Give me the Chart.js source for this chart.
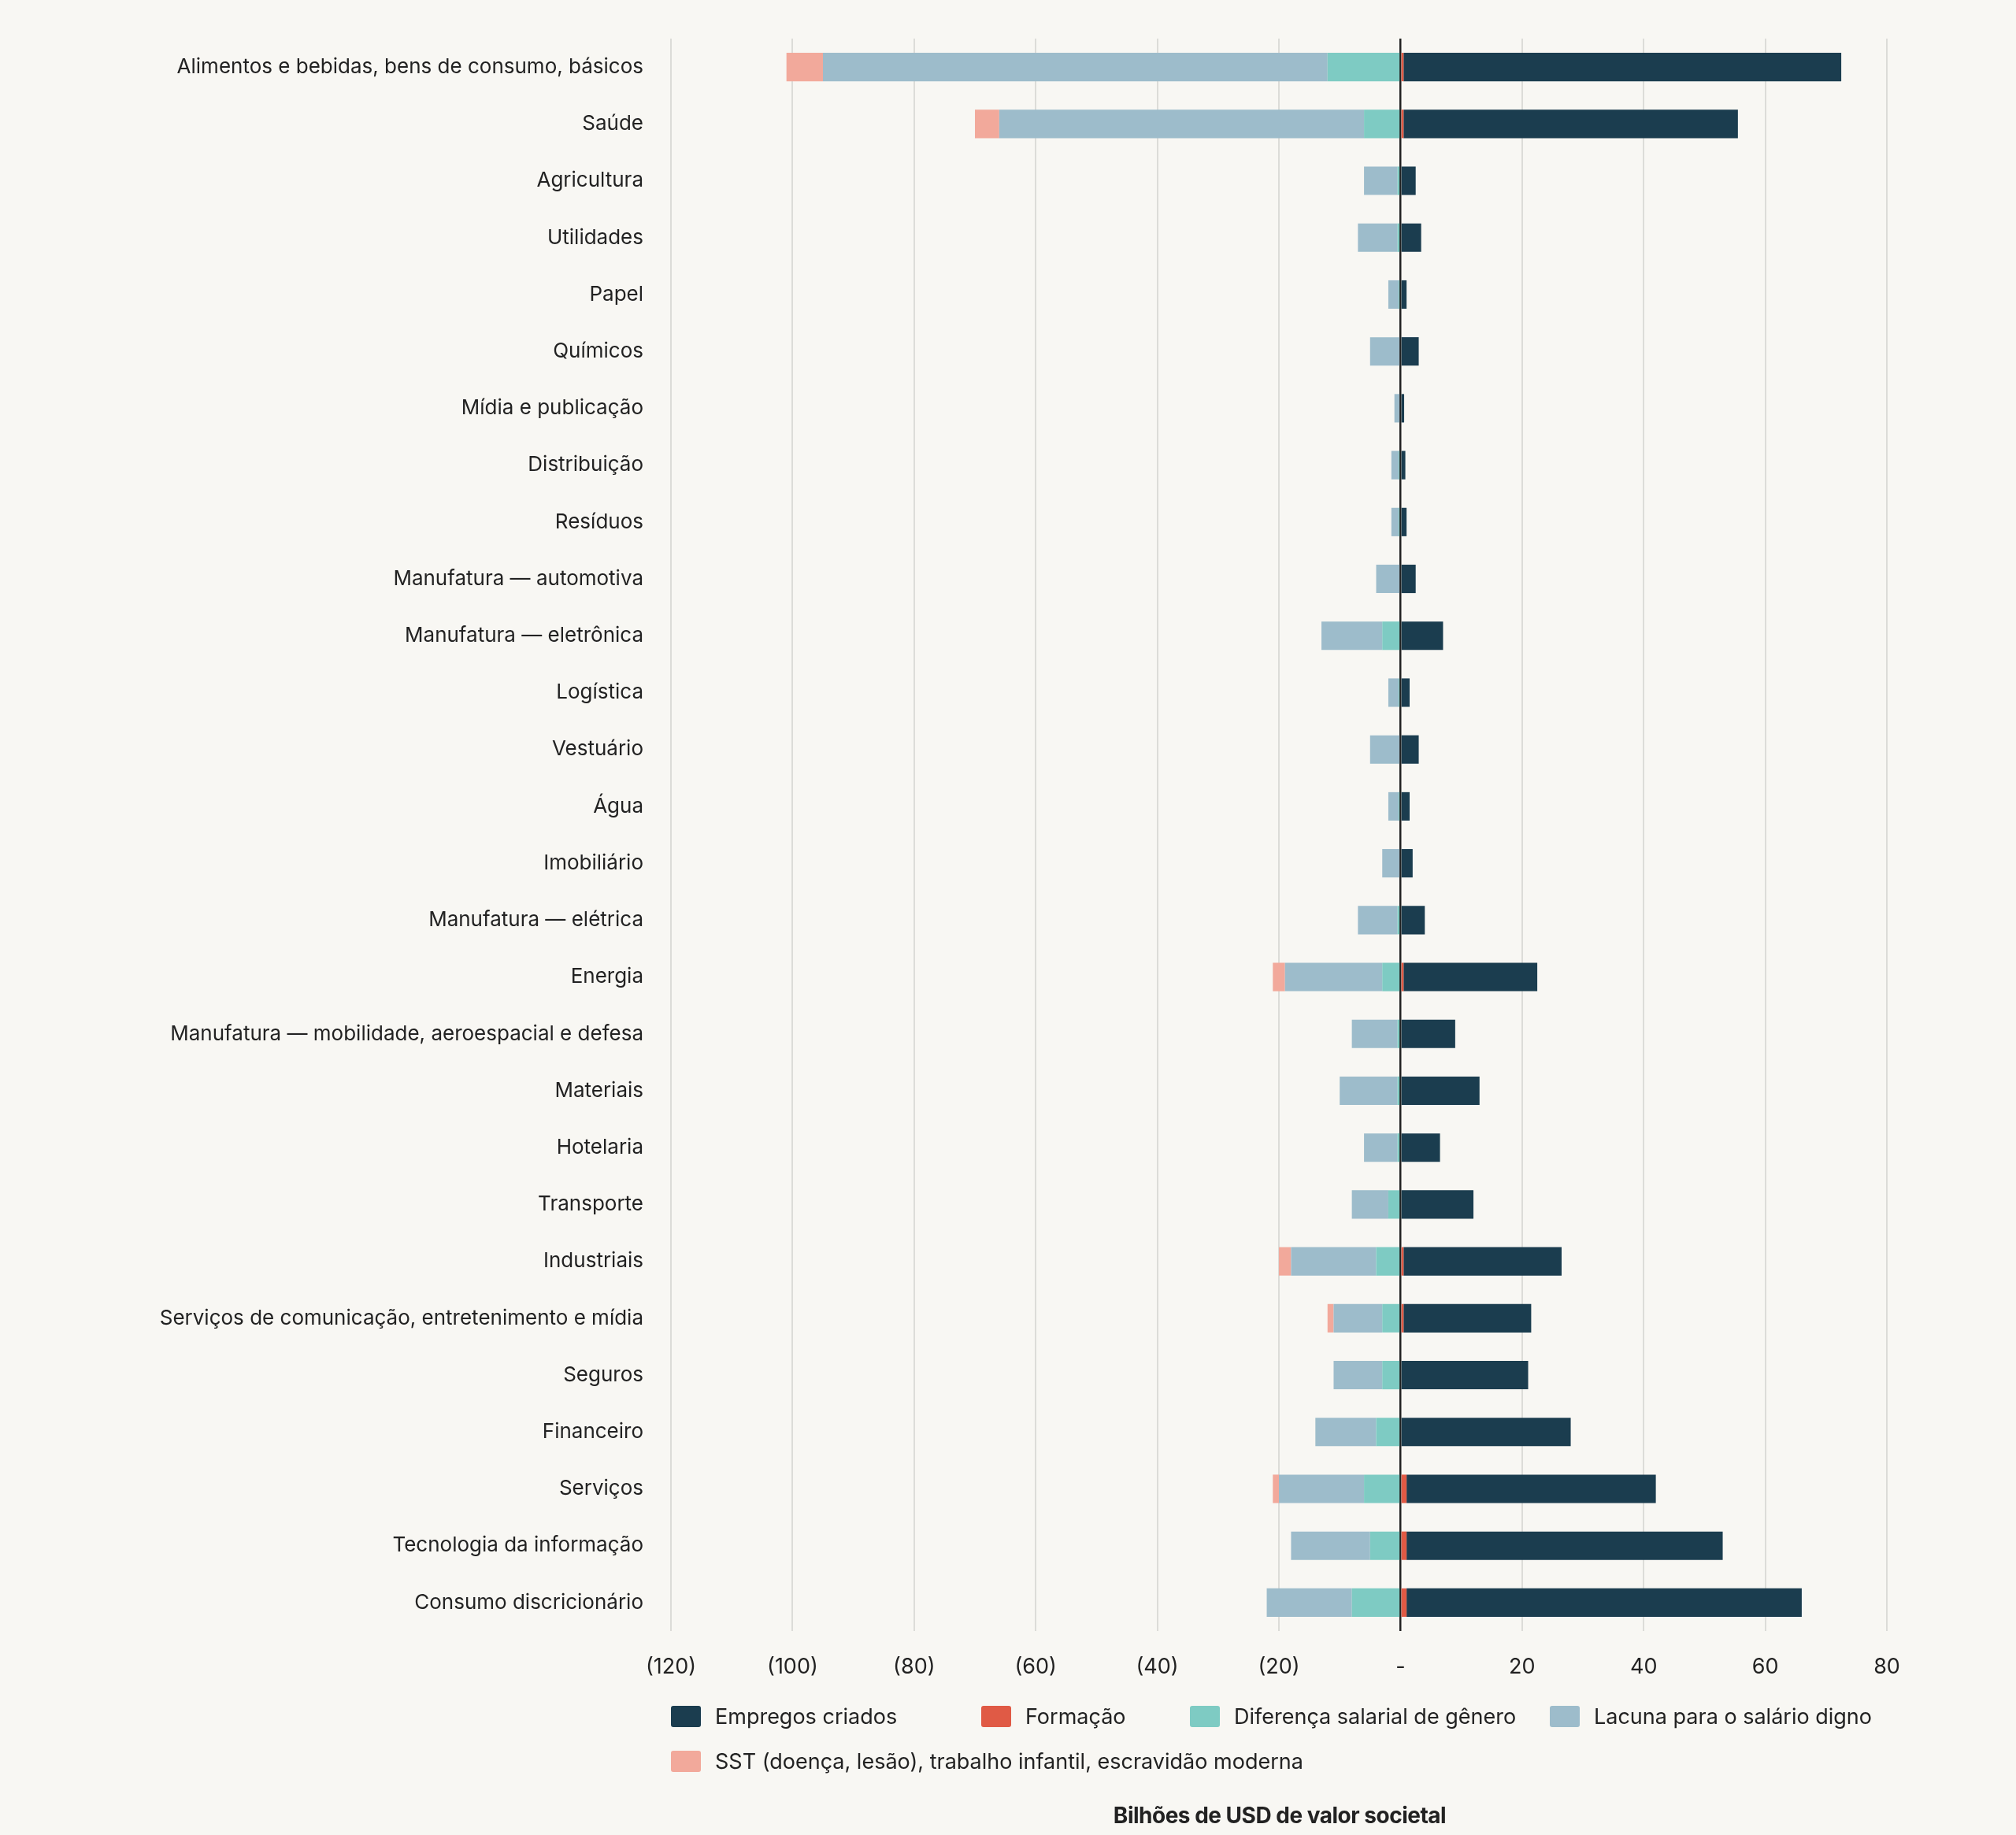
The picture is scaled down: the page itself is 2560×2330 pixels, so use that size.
<!DOCTYPE html>
<html>
<head>
<meta charset="utf-8">
<script src="https://cdn.jsdelivr.net/npm/chart.js@4"></script>
<style>
  body { margin: 0; background: #f8f7f3; font-family: Inter, sans-serif; }
  #wrap { position: relative; width: 2560px; height: 2330px; }
  #legend { position: absolute; left: 852px; top: 2163px; width: 1600px; font-size: 27px; color: #222; }
  .item { position: absolute; display: flex; align-items: center; white-space: nowrap; }
  .box { width: 38px; height: 27px; border-radius: 3px; margin-right: 18px; }
  #title { position: absolute; left: 1625px; top: 2288px; transform: translateX(-50%); font-size: 28px; font-weight: 700; color: #222; letter-spacing: -0.5px; }
</style>
</head>
<body>
<div id="wrap">
  <canvas id="chart" width="2560" height="2330"></canvas>
  <div id="legend"></div>
  <div id="title">Bilhões de USD de valor societal</div>
</div>
<script>
// sectors, top to bottom
const categories = [
  'Alimentos e bebidas, bens de consumo, básicos', 'Saúde', 'Agricultura', 'Utilidades', 'Papel',
  'Químicos', 'Mídia e publicação', 'Distribuição', 'Resíduos', 'Manufatura — automotiva',
  'Manufatura — eletrônica', 'Logística', 'Vestuário', 'Água', 'Imobiliário',
  'Manufatura — elétrica', 'Energia', 'Manufatura — mobilidade, aeroespacial e defesa', 'Materiais', 'Hotelaria',
  'Transporte', 'Industriais', 'Serviços de comunicação, entretenimento e mídia', 'Seguros', 'Financeiro',
  'Serviços', 'Tecnologia da informação', 'Consumo discricionário'
];

const empregos  = [72, 55, 2.5, 3.4, 1, 3, 0.6, 0.8, 1, 2.5, 7, 1.5, 3, 1.5, 2, 4, 22, 9, 13, 6.5, 12, 26, 21, 21, 28, 41, 52, 65];
const formacao  = [0.5, 0.5, 0, 0, 0, 0, 0, 0, 0, 0, 0, 0, 0, 0, 0, 0, 0.5, 0, 0, 0, 0, 0.5, 0.5, 0, 0, 1, 1, 1];
const diferenca = [-12, -6, -0.5, -0.5, -0.3, 0, 0, -0.3, -0.3, 0, -3, -0.3, 0, -0.3, 0, -0.5, -3, -0.5, -0.5, -0.5, -2, -4, -3, -3, -4, -6, -5, -8];
const lacuna    = [-83, -60, -5.5, -6.5, -1.7, -5, -1, -1.2, -1.2, -4, -10, -1.7, -5, -1.7, -3, -6.5, -16, -7.5, -9.5, -5.5, -6, -14, -8, -8, -10, -14, -13, -14];
const sst       = [-6, -4, 0, 0, 0, 0, 0, 0, 0, 0, 0, 0, 0, 0, 0, 0, -2, 0, 0, 0, 0, -2, -1, 0, 0, -1, 0, 0];

const xTicks = [-120, -100, -80, -60, -40, -20, 0, 20, 40, 60, 80];

const colors = {
  empregos: '#1b3d4f',
  formacao: '#e05a45',
  diferenca: '#7ecbc3',
  lacuna: '#9dbccb',
  sst: '#f2a99b'
};

// stack order: nearest to zero first
const datasets = [
  { label: 'Formação', data: formacao, backgroundColor: colors.formacao },
  { label: 'Diferença salarial de gênero', data: diferenca, backgroundColor: colors.diferenca },
  { label: 'Lacuna para o salário digno', data: lacuna, backgroundColor: colors.lacuna },
  { label: 'SST (doença, lesão), trabalho infantil, escravidão moderna', data: sst, backgroundColor: colors.sst },
  { label: 'Empregos criados', data: empregos, backgroundColor: colors.empregos }
];

const ctx = document.getElementById('chart').getContext('2d');
new Chart(ctx, {
  type: 'bar',
  data: { labels: categories, datasets: datasets },
  options: {
    indexAxis: 'y',
    responsive: false,
    animation: false,
    layout: { padding: { top: 49, right: 164, bottom: 0, left: 0 } },
    datasets: { bar: { categoryPercentage: 0.5, barPercentage: 1 } },
    plugins: { legend: { display: false }, tooltip: { enabled: false } },
    scales: {
      x: {
        stacked: true,
        min: -120, max: 80,
        afterBuildTicks: s => { s.ticks = xTicks.map(v => ({ value: v })); },
        afterFit: s => { s.height = 2330 - 49 - 2022; },
        border: { display: false },
        grid: {
          color: c => c.tick && c.tick.value === 0 ? '#222' : '#dcdcd8',
          lineWidth: c => c.tick && c.tick.value === 0 ? 2.5 : 2,
          drawTicks: false
        },
        ticks: {
          padding: 30,
          color: '#222',
          font: { family: 'Inter', size: 27 },
          callback: v => v < 0 ? '(' + (-v) + ')' : (v === 0 ? '-' : String(v))
        }
      },
      y: {
        stacked: true,
        afterFit: s => { s.width = 852; },
        border: { display: false },
        grid: { display: false },
        ticks: { padding: 27, color: '#222', font: { family: 'Inter', size: 26 } }
      }
    }
  }
});

// legend in the reference order
const legendOrder = [4, 0, 1, 2, 3];
const legendPos = [[0, 0], [394, 0], [659, 0], [1116, 0], [0, 57]];
const legend = document.getElementById('legend');
legendOrder.forEach((di, i) => {
  const d = datasets[di];
  const el = document.createElement('div');
  el.className = 'item';
  el.style.left = legendPos[i][0] + 'px';
  el.style.top = legendPos[i][1] + 'px';
  el.innerHTML = '<span class="box" style="background:' + d.backgroundColor + '"></span>' + d.label;
  legend.appendChild(el);
});
</script>
</body>
</html>
